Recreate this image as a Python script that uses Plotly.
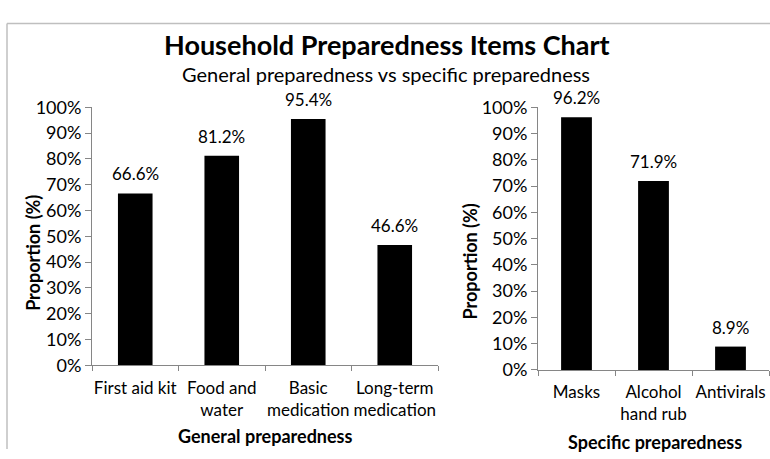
import plotly.graph_objects as go

W, H = 770, 459

general_items = ["First aid kit", "Food and<br>water", "Basic<br>medication", "Long-term<br>medication"]
general_values = [0.666, 0.812, 0.954, 0.466]
specific_items = ["Masks", "Alcohol<br>hand rub", "Antivirals"]
specific_values = [0.962, 0.719, 0.089]
y_ticks = [i / 10 for i in range(11)]

FONT = "Lato, 'Open Sans', sans-serif"
AX = "#868686"

def px_x(p):
    return p / W

def px_y(p):
    return 1 - p / H

fig = go.Figure()
ann = []
for xs, ys, xa, ya in [(general_items, general_values, "x", "y"),
                       (specific_items, specific_values, "x2", "y2")]:
    fig.add_trace(go.Bar(x=xs, y=ys, xaxis=xa, yaxis=ya,
                         marker=dict(color="black", line=dict(width=0))))
    for c, v in zip(xs, ys):
        ann.append(dict(x=c, y=v, xref=xa, yref=ya, text=f"{v * 100:.1f}%",
                        showarrow=False, xanchor="center", yanchor="bottom", yshift=7,
                        font=dict(size=17, color="black", family=FONT)))

xcommon = dict(type="category", tickson="boundaries", ticks="outside", ticklen=5,
               tickcolor=AX, showline=True, linecolor=AX, linewidth=1, showgrid=False,
               tickangle=0, ticklabelstandoff=7,
               tickfont=dict(size=17, color="black", family=FONT), fixedrange=True)
ycommon = dict(range=[0, 1], tickvals=y_ticks, tickformat=".0%", ticks="outside",
               ticklen=6, tickcolor=AX, showline=True, linecolor=AX, linewidth=1,
               showgrid=False, zeroline=False,
               tickfont=dict(size=18, color="black", family=FONT), fixedrange=True)

fig.update_layout(
    width=W, height=H, margin=dict(l=0, r=0, t=0, b=0),
    paper_bgcolor="white", plot_bgcolor="white", showlegend=False,
    bargap=0.6,
    font=dict(family=FONT, color="black"),
    xaxis=dict(domain=[px_x(92), px_x(438)], anchor="y", **xcommon),
    yaxis=dict(domain=[px_y(371), px_y(100)], anchor="x", **ycommon),
    xaxis2=dict(domain=[px_x(538), px_x(769)], anchor="y2", **xcommon),
    yaxis2=dict(domain=[px_y(376), px_y(100)], anchor="x2", **ycommon),
)

labels = [
    dict(text="<b>Household Preparedness Items Chart</b>", x=px_x(387), y=px_y(34),
         font=dict(size=27)),
    dict(text="General preparedness vs specific preparedness", x=px_x(386), y=px_y(65),
         font=dict(size=20)),
    dict(text="<b>General preparedness</b>", x=px_x(265), y=px_y(445), font=dict(size=18)),
    dict(text="<b>Specific preparedness</b>", x=px_x(655), y=px_y(452), font=dict(size=18)),
    dict(text="<b>Proportion (%)</b>", x=px_x(33), y=px_y(253), textangle=-90, font=dict(size=18)),
    dict(text="<b>Proportion (%)</b>", x=px_x(470), y=px_y(262), textangle=-90, font=dict(size=18)),
]
for a in labels:
    a.update(xref="paper", yref="paper", showarrow=False, xanchor="center", yanchor="middle")
    a["font"].update(family=FONT, color="black")
fig.update_layout(annotations=ann + labels)

fig.update_layout(shapes=[
    dict(type="line", xref="paper", yref="paper", x0=px_x(7), x1=1, y0=px_y(12), y1=px_y(12),
         line=dict(color="#bfbfbf", width=1.5)),
    dict(type="line", xref="paper", yref="paper", x0=px_x(7), x1=px_x(7), y0=px_y(12), y1=0,
         line=dict(color="#bfbfbf", width=1.5)),
])

fig.write_html("out.html")
